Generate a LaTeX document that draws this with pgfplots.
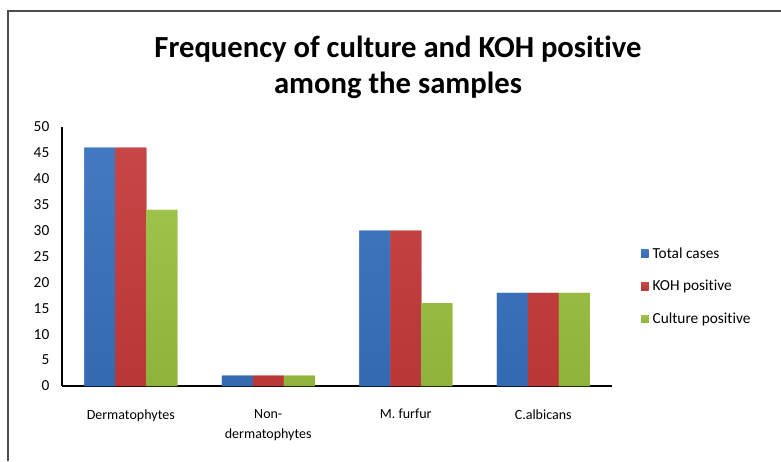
\documentclass[border=0pt]{standalone}
\usepackage{pgfplots}
\pgfplotsset{compat=1.18}
\usepackage{fontspec}
\setmainfont[Ligatures=NoCommon]{Carlito}
\definecolor{xblue}{RGB}{55,112,190}
\definecolor{xred}{RGB}{196,58,58}
\definecolor{xgreen}{RGB}{152,190,62}
\begin{document}
\begin{tikzpicture}
\useasboundingbox (0pt,0pt) rectangle (585.75pt,345.75pt);
\draw[line width=1.5pt,black!70] (6pt,0pt) -- (6pt,337.5pt) -- (585.75pt,337.5pt);
\node[font=\bfseries\fontsize{23}{27}\selectfont,align=center] at (298.5pt,295pt) {Frequency of culture and KOH positive\\among the samples};
\begin{axis}[
  at={(46.5pt,56.25pt)}, anchor=south west,
  scale only axis, width=412.5pt, height=194.25pt,
  xmin=-0.5, xmax=3.5, ymin=0, ymax=50,
  axis lines=left, axis line style={-, line width=0.9pt},
  ytick={0,5,...,50},
  xtick={0,1,2,3},
  xticklabels={Dermatophytes,Non-\\dermatophytes,M. furfur,C.albicans},
  xticklabel style={align=center, yshift=-14pt, anchor=north, font=\fontsize{10.5}{15}\selectfont},
  major tick length=0pt,
  yticklabel style={xshift=-6pt, font=\fontsize{11.5}{14}\selectfont},
  /pgf/number format/assume math mode=true,
  ybar=0pt, bar width=23.25pt,
  legend style={draw=none, at={(1.045,0.385)}, anchor=west, font=\fontsize{11.5}{13}\selectfont, row sep=11pt, legend cell align=left, nodes={inner xsep=3pt}},
  legend image code/.code={\fill[#1] (0cm,-0.1cm) rectangle (0.2cm,0.1cm);},
]
\addplot[top color=xblue!94!white, bottom color=xblue!94!black, draw=none, fill=xblue] coordinates {(0,46) (1,2) (2,30) (3,18)};
\addplot[top color=xred!94!white, bottom color=xred!94!black, draw=none, fill=xred] coordinates {(0,46) (1,2) (2,30) (3,18)};
\addplot[top color=xgreen!94!white, bottom color=xgreen!94!black, draw=none, fill=xgreen] coordinates {(0,34) (1,2) (2,16) (3,18)};
\legend{Total cases, KOH positive, Culture positive}
\end{axis}
\end{tikzpicture}
\end{document}
